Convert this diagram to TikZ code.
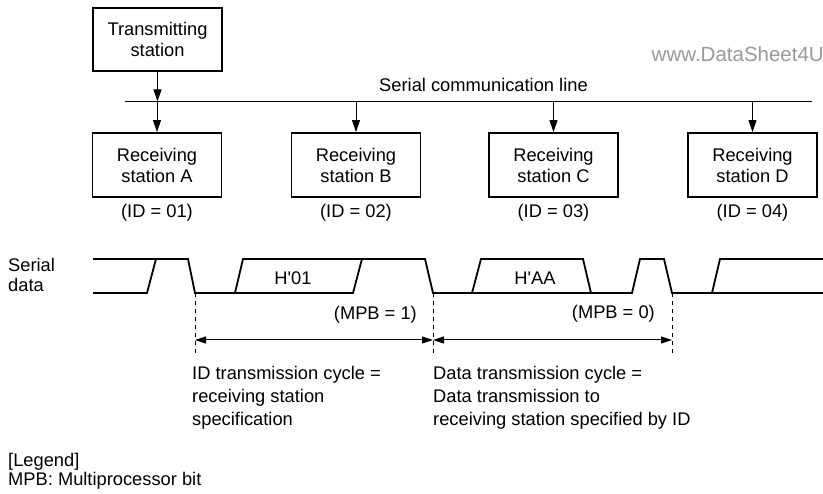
\documentclass[tikz,border=0pt]{standalone}
\usepackage{fontspec}
\setmainfont{Liberation Sans}
\usetikzlibrary{arrows.meta}
\begin{document}
\begin{tikzpicture}[x=1pt,y=-1pt,
  box/.style={draw,line width=1.9pt,minimum width=129pt,minimum height=63pt,align=center,inner sep=0pt,font=\fontsize{18.3}{21}\selectfont},
  lbl/.style={inner sep=0pt,font=\fontsize{18.3}{22}\selectfont},
  conn/.style={line width=1pt,-{Triangle[length=12pt,width=8pt]}},
  dimline/.style={line width=1pt,{Triangle[length=11pt,width=7pt]}-{Triangle[length=11pt,width=7pt]}},
  wave/.style={line width=1.8pt,line join=miter},
  guide/.style={line width=0.8pt,dash pattern=on 4pt off 4pt}]
\useasboundingbox (0,0) rectangle (823,494);

% stations
\node[box] (T) at (157.5,39.5) {Transmitting\\station};
\node[box,minimum height=64pt] (A) at (157,165) {Receiving\\station A};
\node[box,minimum height=64pt] (B) at (356,165) {Receiving\\station B};
\node[box,minimum height=64pt] (C) at (553.5,165) {Receiving\\station C};
\node[box,minimum height=64pt] (D) at (752.5,165) {Receiving\\station D};

\node[lbl] (idA) at (157,213) {(ID = 01)};
\node[lbl] (idB) at (356,213) {(ID = 02)};
\node[lbl] (idC) at (553.5,213) {(ID = 03)};
\node[lbl] (idD) at (752.5,213) {(ID = 04)};

% watermark
\node[inner sep=0pt,anchor=east,text=black!40,font=\fontsize{20.5}{22}\selectfont] (wm) at (824,54) {www.DataSheet4U};

% serial line
\coordinate (L1) at (125,101.5);
\coordinate (L2) at (812,101.5);
\draw[line width=1pt] (L1) -- (L2);
\node[lbl] (sl) at (483.5,85) {Serial communication line};
\coordinate (tT) at (157.5,101.5);
\coordinate (tA) at (157,101.5);
\coordinate (tB) at (356,101.5);
\coordinate (tC) at (553.5,101.5);
\coordinate (tD) at (752.5,101.5);
\draw[conn] (T.south) -- (tT);
\draw[conn] (tA) -- (A.north);
\draw[conn] (tB) -- (B.north);
\draw[conn] (tC) -- (C.north);
\draw[conn] (tD) -- (D.north);

% serial data
\node[lbl,align=left,anchor=west,font=\fontsize{18.3}{20.5}\selectfont] (sd) at (8,275) {Serial\\data};
\draw[wave] (93,293) -- (147,293) -- (156,259);
\draw[wave] (93,259) -- (188,259) -- (195,293) -- (353,293) -- (362,259);
\draw[wave] (235,293) -- (243,259) -- (425,259) -- (433,293) -- (632,293) -- (640,259) -- (664,259) -- (672,293) -- (823,293);
\draw[wave] (472,293) -- (481,259) -- (583,259) -- (591,293);
\draw[wave] (712,293) -- (720,259) -- (823,259);
\node[lbl] (h1) at (293,278) {H\textquotesingle 01};
\node[lbl] (h2) at (535,278) {H\textquotesingle AA};

% guides
\coordinate (w1) at (195,293); \coordinate (g1) at (195,353);
\coordinate (w2) at (433,293); \coordinate (g2) at (433,353);
\coordinate (w3) at (672,293); \coordinate (g3) at (672,353);
\draw[guide] (w1) -- (g1);
\draw[guide] (w2) -- (g2);
\draw[guide] (w3) -- (g3);
\coordinate (a1) at (195,340);
\coordinate (a2) at (433,340);
\coordinate (a3) at (672,340);
\draw[dimline] (a1) -- (a2);
\draw[dimline] (a2) -- (a3);

\node[lbl,anchor=east] (m1) at (417,315) {(MPB = 1)};
\node[lbl,anchor=east] (m0) at (655,314) {(MPB = 0)};

\node[lbl,align=left,anchor=west,font=\fontsize{18.3}{23}\selectfont] (c1) at (192,398) {ID transmission cycle =\\receiving station\\specification};
\node[lbl,align=left,anchor=west,font=\fontsize{18.3}{23}\selectfont] (c2) at (433,398) {Data transmission cycle =\\Data transmission to\\receiving station specified by ID};

\node[lbl,align=left,anchor=west,font=\fontsize{18.3}{19.5}\selectfont] (lg) at (8,471.5) {[Legend]\\MPB: Multiprocessor bit};
\end{tikzpicture}
\end{document}
